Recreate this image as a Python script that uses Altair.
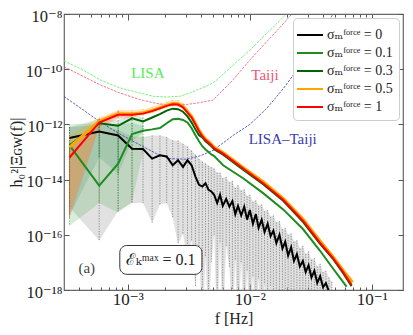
import altair as alt
import pandas as pd

FONT = "'Liberation Serif', 'DejaVu Serif', serif"

# ---------------- frequencies [Hz] ----------------
F_BINS = [3.33e-4, 5.83e-4, 8.33e-4, 1.083e-3, 1.333e-3, 1.583e-3, 1.833e-3,
          2.083e-3, 2.333e-3, 2.583e-3, 2.833e-3, 3.083e-3, 3.333e-3, 3.583e-3,
          3.833e-3, 4.083e-3, 4.333e-3, 4.583e-3, 4.833e-3, 5.083e-3]
F_TAIL = [6.04e-3, 8.81e-3, 1.285e-2, 1.875e-2, 2.735e-2, 3.75e-2, 4.82e-2, 5.82e-2, 6.82e-2]
F_TAIL_ORANGE = [6.04e-3, 8.81e-3, 1.285e-2, 1.875e-2, 2.735e-2, 3.75e-2, 4.82e-2, 5.85e-2, 6.95e-2]
F_TAIL_G01 = [6.04e-3, 8.81e-3, 1.285e-2, 1.875e-2, 2.735e-2, 3.75e-2, 4.82e-2, 6.21e-2]
F_BLACK_TAIL = [5.1e-3, 5.4e-3, 5.7e-3, 6.0e-3, 6.4e-3, 6.8e-3, 7.2e-3, 7.6e-3, 8.0e-3,
                8.5e-3, 9.0e-3, 9.5e-3, 1.0e-2, 1.06e-2, 1.12e-2, 1.18e-2, 1.25e-2,
                1.32e-2, 1.4e-2, 1.48e-2, 1.56e-2, 1.65e-2, 1.75e-2, 1.85e-2, 1.95e-2,
                2.06e-2, 2.18e-2, 2.3e-2, 2.43e-2, 2.57e-2, 2.72e-2, 2.87e-2, 3.03e-2,
                3.2e-2, 3.38e-2, 3.57e-2, 3.77e-2, 3.98e-2, 4.2e-2, 4.45e-2, 4.7e-2]

# ---------------- log10 h0^2 |Xi_GW| ----------------
LG_BLACK_BINS = [-12.49, -12.26, -12.40, -12.88, -12.89, -13.24, -13.12, -13.16, -13.48,
                 -13.30, -13.54, -13.30, -13.48, -13.89, -14.19, -14.25, -14.13, -14.37, -14.43]
LG_BLACK_TAIL = [-14.55, -14.85, -14.55, -14.95, -14.7, -14.98, -14.78, -15.25, -14.95,
                 -15.3, -14.98, -15.45, -15.1, -15.6, -15.25, -15.75, -15.45, -15.9, -15.6,
                 -16.05, -15.85, -16.3, -16.0, -16.5, -16.25, -16.75, -16.45, -16.95, -16.7,
                 -17.15, -16.95, -17.35, -17.1, -17.55, -17.3, -17.75, -17.5, -17.9, -17.75,
                 -18.05, -18.2]
LG_G01_BINS = [-12.76, -14.22, -13.42, -12.35, -12.23, -12.18, -12.13, -11.96, -11.81, -11.80,
               -11.84, -11.93, -12.14, -12.39, -12.61, -12.79, -12.91, -13.00, -13.09, -13.14]
LG_G01_TAIL = [-13.48, -13.95, -14.49, -15.08, -15.80, -16.57, -17.23, -17.88]
LG_G03_BINS = [-12.76, -11.96, -12.05, -11.78, -11.89, -11.75, -11.63, -11.50, -11.43, -11.45,
               -11.54, -11.71, -11.93, -12.18, -12.39, -12.47, -12.61, -12.70, -12.79, -12.90]
LG_G03_TAIL = [-13.10, -13.64, -14.17, -14.77, -15.54, -16.32, -16.88, -17.39, -17.86]
LG_ORANGE_BINS = [-12.82, -11.89, -11.61, -11.62, -11.58, -11.49, -11.39, -11.30, -11.24, -11.25,
                  -11.35, -11.53, -11.71, -11.96, -12.21, -12.39, -12.53, -12.62, -12.71, -12.82]
LG_ORANGE_TAIL = [-13.02, -13.56, -14.08, -14.68, -15.44, -16.21, -16.80, -17.30, -17.72]
LG_RED_BINS = [-13.20, -11.93, -11.65, -11.65, -11.61, -11.52, -11.42, -11.33, -11.27, -11.28,
               -11.38, -11.57, -11.75, -12.00, -12.25, -12.43, -12.57, -12.66, -12.75, -12.86]
LG_RED_TAIL = [-13.06, -13.60, -14.13, -14.73, -15.50, -16.28, -16.85, -17.35, -17.82]

# ---------------- uncertainty bands (log10) ----------------
GRAY_HI_BINS = [-12.1, -12.0, -12.2, -12.44, -12.46, -12.4, -12.4, -12.46, -12.58, -12.58,
                -12.7, -12.8, -12.95, -13.1, -13.25, -13.35, -13.42, -13.5, -13.55]
GRAY_LO_BINS = [-15.0, -16.21, -15.14, -14.85, -14.85, -15.56, -14.9, -14.85, -15.38, -16.33,
                -15.96, -16.93, -16.2, -17.9, -16.5, -19.5, -16.8, -19.5, -17.0]
GRAY_HI_TAIL = [-13.6, -13.75, -13.75, -13.95, -13.9, -14.1, -14.05, -14.3, -14.2, -14.4,
                -14.35, -14.6, -14.55, -14.8, -14.75, -14.95, -14.9, -15.15, -15.1, -15.35,
                -15.3, -15.55, -15.5, -15.8, -15.75, -16.0, -15.95, -16.25, -16.2, -16.5,
                -16.4, -16.7, -16.6, -16.9, -16.85, -17.15, -17.05, -17.35, -17.3, -17.55, -17.7]
GRAY_LO_TAIL = [-16.0, -19.5, -16.3, -19.5, -16.4, -17.2, -19.5, -16.9, -19.5, -17.0, -19.5,
                -17.3, -19.5, -17.5, -19.5, -17.6, -19.5, -17.8, -19.5, -17.9, -19.5, -18.1,
                -19.5, -18.2, -19.5, -18.3, -19.5, -18.4, -19.5, -18.5, -19.5, -18.6, -19.5,
                -18.7, -19.5, -18.8, -19.5, -18.9, -19.5, -19.0, -19.5]
G01_HI = [-12.0, -11.95, -12.0, -11.95, -12.05]
G01_LO = [-15.68, -14.85, -15.2, -14.8, -13.0]
G03_HI = [-12.1, -11.8, -11.85, -11.65, -11.75]
G03_LO = [-15.3, -13.2, -13.8, -12.6, -12.3]
OR_HI = [-12.4, -11.75, -11.48, -11.48, -11.45, -11.36, -11.26, -11.17, -11.11, -11.12, -11.22, -11.42, -11.65]
OR_LO = [-15.25, -12.1, -11.75, -11.74, -11.68, -11.6, -11.5, -11.4, -11.35, -11.36, -11.46, -11.63, -11.8]
RED_HI = [-12.8, -11.8, -11.52, -11.55]
RED_LO = [-15.4, -12.1, -11.8, -11.78]

# ---------------- detector sensitivity curves ----------------
F_LISA = [3.0e-4, 4.31e-4, 5.89e-4, 8.6e-4, 1.254e-3, 1.612e-3, 2.075e-3, 2.668e-3, 3.224e-3,
          3.893e-3, 4.70e-3, 5.33e-3, 7.30e-3, 1.0e-2, 1.37e-2, 2.0e-2, 2.57e-2]
LG_LISA = [-9.70, -10.03, -10.38, -10.68, -10.86, -10.98, -11.01, -10.98, -10.86, -10.71, -10.56,
           -10.40, -9.85, -9.31, -8.71, -8.0, -7.5]
F_TAIJI = [3.0e-4, 4.31e-4, 5.89e-4, 8.6e-4, 1.254e-3, 1.719e-3, 2.209e-3, 3.029e-3, 3.893e-3,
           5.003e-3, 7.30e-3, 1.0e-2, 1.37e-2, 1.875e-2, 2.209e-2, 2.823e-2]
LG_TAIJI = [-9.91, -10.26, -10.56, -10.86, -11.10, -11.24, -11.31, -11.28, -11.21, -11.12, -10.38,
            -9.67, -9.01, -8.36, -8.0, -7.49]
F_NET = [3.0e-4, 4.31e-4, 5.89e-4, 8.6e-4, 1.254e-3, 1.719e-3, 2.209e-3, 3.029e-3, 3.893e-3,
         5.003e-3, 7.30e-3, 1.0e-2, 1.37e-2, 1.875e-2, 2.57e-2, 3.52e-2, 4.82e-2, 6.0e-2]
LG_NET = [-10.99, -11.475, -11.90, -12.35, -12.74, -13.06, -13.24, -13.26, -13.14, -12.94, -12.40,
          -12.0, -11.43, -10.71, -9.89, -8.96, -8.0, -7.21]

LEG_LABELS = ["σₘᶠᵒʳᶜᵉ = 0", "σₘᶠᵒʳᶜᵉ = 0.1", "σₘᶠᵒʳᶜᵉ = 0.3", "σₘᶠᵒʳᶜᵉ = 0.5", "σₘᶠᵒʳᶜᵉ = 1"]
COLORS = ["#000000", "#1e8c1e", "#006400", "#ffa500", "#ff0000"]

SERIES = {
    LEG_LABELS[0]: (F_BINS[:19] + F_BLACK_TAIL, LG_BLACK_BINS + LG_BLACK_TAIL),
    LEG_LABELS[1]: (F_BINS + F_TAIL_G01, LG_G01_BINS + LG_G01_TAIL),
    LEG_LABELS[2]: (F_BINS + F_TAIL, LG_G03_BINS + LG_G03_TAIL),
    LEG_LABELS[3]: (F_BINS + F_TAIL_ORANGE, LG_ORANGE_BINS + LG_ORANGE_TAIL),
    LEG_LABELS[4]: (F_BINS + F_TAIL, LG_RED_BINS + LG_RED_TAIL),
}
BANDS = [
    (F_BINS[:19] + F_BLACK_TAIL, GRAY_HI_BINS + GRAY_HI_TAIL, GRAY_LO_BINS + GRAY_LO_TAIL, "#c4c4c4", 0.5, "#444444"),
    (F_BINS[:5], G01_HI, G01_LO, "#3aa53a", 0.2, "#1e8c1e"),
    (F_BINS[:5], G03_HI, G03_LO, "#2e8b57", 0.18, "#006400"),
    (F_BINS[:13], OR_HI, OR_LO, "#ffa500", 0.25, "#ff8c00"),
    (F_BINS[:4], RED_HI, RED_LO, "#ff5050", 0.2, "#ff0000"),
]

X_SCALE = alt.Scale(type="log", domain=[3e-4, 0.18])
Y_SCALE = alt.Scale(type="log", domain=[1e-18, 1e-8])

SUP = {"-": "⁻", "0": "⁰", "1": "¹", "2": "²", "3": "³", "4": "⁴", "5": "⁵", "6": "⁶", "7": "⁷", "8": "⁸", "9": "⁹"}


def pow_label_expr(exps):
    e = "round(log(datum.value)/LN10)"
    expr = "''"
    for k in reversed(exps):
        s = "10" + "".join(SUP[c] for c in str(k))
        expr = f"{e} == {k} ? '{s}' : ({expr})"
    return expr


TICK = "#555555"
common = dict(domain=False, grid=False, tickColor=TICK, tickWidth=1)
ax_x_main = alt.Axis(orient="bottom", values=[1e-3, 1e-2, 1e-1], labelExpr=pow_label_expr([-3, -2, -1]),
                     title="f [Hz]", offset=-6, tickSize=6, labelPadding=1, labelFont=FONT,
                     labelFontSize=17, labelColor="#222222", titleFont=FONT, titleFontSize=16,
                     titleFontWeight="normal", titleColor="#222222", titlePadding=3, **common)
MINOR = [4e-4, 5e-4, 6e-4, 7e-4, 8e-4, 9e-4, 2e-3, 3e-3, 4e-3, 5e-3, 6e-3, 7e-3, 8e-3, 9e-3,
         2e-2, 3e-2, 4e-2, 5e-2, 6e-2, 7e-2, 8e-2, 9e-2]
ax_x_minor = alt.Axis(orient="bottom", values=MINOR, labels=False, title="", offset=-3, tickSize=3, **common)
ax_x_top = alt.Axis(orient="top", values=[1e-3, 1e-2, 1e-1], labels=False, title="", offset=-6, tickSize=6, **common)
ax_x_top_minor = alt.Axis(orient="top", values=MINOR, labels=False, title="", offset=-3, tickSize=3, **common)
Y_VALS = [1e-8, 1e-10, 1e-12, 1e-14, 1e-16, 1e-18]
ax_y_main = alt.Axis(orient="left", values=Y_VALS, labelExpr=pow_label_expr([-8, -10, -12, -14, -16, -18]),
                     title="h₀²|Ξɢᴡ(f)|", offset=-5, tickSize=5, labelPadding=2, labelFont=FONT,
                     labelFontSize=16.5, labelColor="#222222", labelOffset=2, titleFont=FONT, titleFontSize=16,
                     titleFontWeight="normal", titleColor="#222222", titleX=-53, titleY=138,
                     titleBaseline="middle", titleAlign="center", **common)
ax_y_right = alt.Axis(orient="right", values=Y_VALS, labels=False, title="", offset=-5, tickSize=5, **common)

AXES = [(ax_x_main, ax_y_main), (ax_x_minor, ax_y_right), (ax_x_top, None), (ax_x_top_minor, None)]

layers = []
# bands
for i, (fs, hi, lo, col, op, rc) in enumerate(BANDS):
    df = pd.DataFrame({"f": fs, "hi": [10 ** v for v in hi], "lo": [10 ** v for v in lo]})
    ax, ay = AXES[i] if i < len(AXES) else (None, None)
    layers.append(alt.Chart(df).mark_area(color=col, opacity=op, clip=True, interpolate="linear").encode(
        x=alt.X("f:Q", scale=X_SCALE, axis=ax),
        y=alt.Y("hi:Q", scale=Y_SCALE, axis=ay),
        y2="lo:Q"))
# error-bar rules
for fs, hi, lo, col, op, rc in BANDS:
    df = pd.DataFrame({"f": fs, "hi": [10 ** v for v in hi], "lo": [10 ** v for v in lo]})
    layers.append(alt.Chart(df).mark_rule(color=rc, strokeWidth=0.7, strokeDash=[1.3, 1.3], opacity=0.75,
                                          clip=True).encode(
        x=alt.X("f:Q", scale=X_SCALE, axis=None),
        y=alt.Y("hi:Q", scale=Y_SCALE, axis=None),
        y2="lo:Q"))
# sensitivity curves
for fs, lg, col in [(F_LISA, LG_LISA, "#55ee55"), (F_TAIJI, LG_TAIJI, "#ee5577"), (F_NET, LG_NET, "#3c3caa")]:
    df = pd.DataFrame({"f": fs, "v": [10 ** v for v in lg]})
    layers.append(alt.Chart(df).mark_line(color=col, strokeWidth=0.8, strokeDash=[2.5, 1.2], clip=True).encode(
        x=alt.X("f:Q", scale=X_SCALE, axis=None),
        y=alt.Y("v:Q", scale=Y_SCALE, axis=None)))
# data lines
legend = alt.Legend(orient="top-right", offset=4, padding=6, cornerRadius=4, strokeColor="#cccccc",
                    fillColor="#ffffff", title=None, symbolType="M-1.3,0H1.3", symbolSize=400,
                    symbolStrokeWidth=2, labelFont=FONT, labelFontSize=14, labelColor="#222222",
                    labelLimit=200, rowPadding=0, labelOffset=6)
WIDTHS = [2, 2, 2, 3, 2]
for (lab, (fs, lg)), w in zip(SERIES.items(), WIDTHS):
    df = pd.DataFrame({"f": fs, "v": [10 ** v for v in lg], "s": lab})
    layers.append(alt.Chart(df).mark_line(strokeWidth=w, clip=True).encode(
        x=alt.X("f:Q", scale=X_SCALE, axis=None),
        y=alt.Y("v:Q", scale=Y_SCALE, axis=None),
        color=alt.Color("s:N", scale=alt.Scale(domain=LEG_LABELS, range=COLORS), legend=legend)))

# annotations
TXT = pd.DataFrame({
    "f": [1.46e-3, 1.33e-2, 1.86e-2, 4.61e-4],
    "v": [7.2e-11, 6.1e-11, 2.9e-13, 6.1e-18],
    "t": ["LISA", "Taiji", "LISA–Taiji", "(a)"],
    "c": ["#55ee55", "#ee5577", "#3c3caa", "#444444"],
})
layers.append(alt.Chart(TXT).mark_text(font=FONT, fontSize=15).encode(
    x=alt.X("f:Q", scale=X_SCALE, axis=None),
    y=alt.Y("v:Q", scale=Y_SCALE, axis=None),
    text="t:N", color=alt.Color("c:N", scale=None)))
BOX = pd.DataFrame({"f1": [8.6e-4], "f2": [4.05e-3], "v1": [4.1e-17], "v2": [3.7e-18],
                    "fc": [1.86e-3], "vc": [1.23e-17], "t": ["ℰₖᵐᵃˣ = 0.1"]})
layers.append(alt.Chart(BOX).mark_rect(fill="white", stroke="#333333", strokeWidth=1, cornerRadius=7).encode(
    x=alt.X("f1:Q", scale=X_SCALE, axis=None), x2="f2:Q",
    y=alt.Y("v1:Q", scale=Y_SCALE, axis=None), y2="v2:Q"))
layers.append(alt.Chart(BOX).mark_text(font=FONT, fontSize=16, color="#222222").encode(
    x=alt.X("fc:Q", scale=X_SCALE, axis=None),
    y=alt.Y("vc:Q", scale=Y_SCALE, axis=None), text="t:N"))

chart = alt.layer(*layers).resolve_axis(x="independent", y="independent").properties(
    width=339, height=276,
    autosize=alt.AutoSizeParams(type="none"),
    padding={"left": 56, "top": 6, "right": 2, "bottom": 37},
).configure_view(stroke="#666666", strokeWidth=1.2)

chart.save("out.html", embed_options={"renderer": "svg", "actions": False})
